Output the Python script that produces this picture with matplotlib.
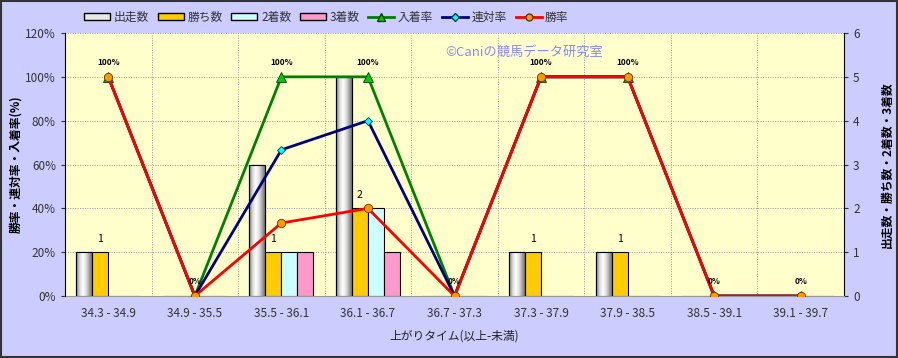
import numpy as np
import matplotlib.pyplot as plt
from matplotlib.colors import LinearSegmentedColormap
from matplotlib.patches import Patch
from matplotlib.lines import Line2D

plt.rcParams['font.family'] = ['Noto Sans CJK JP', 'DejaVu Sans']

categories = ['34.3 - 34.9', '34.9 - 35.5', '35.5 - 36.1', '36.1 - 36.7', '36.7 - 37.3',
              '37.3 - 37.9', '37.9 - 38.5', '38.5 - 39.1', '39.1 - 39.7']
starts = [1, 0, 3, 5, 0, 1, 1, 0, 0]
wins = [1, 0, 1, 2, 0, 1, 1, 0, 0]
seconds = [0, 0, 1, 2, 0, 0, 0, 0, 0]
thirds = [0, 0, 1, 1, 0, 0, 0, 0, 0]
place_rate = [100, 0, 100, 100, 0, 100, 100, 0, 0]
quinella_rate = [100, 0, 66.7, 80, 0, 100, 100, 0, 0]
win_rate = [100, 0, 33.3, 40, 0, 100, 100, 0, 0]

bg = '#CCCCFF'
fig = plt.figure(figsize=(8.98, 3.58), dpi=100, facecolor=bg)
ax2 = fig.add_axes([0.0724, 0.1732, 0.8675, 0.7346])
ax = ax2.twinx()
ax2.yaxis.tick_right()
ax2.yaxis.set_label_position('right')
ax.yaxis.tick_left()
ax.yaxis.set_label_position('left')
ax.set_zorder(ax2.get_zorder() + 1)
ax.patch.set_visible(False)
ax2.set_facecolor('#FFFFCC')

x = np.arange(len(categories))
w = 0.185

# bars (counts, right axis)
grad = LinearSegmentedColormap.from_list('cyl', ['#707070', '#d8d8d8', '#ffffff', '#e0e0e0', '#a0a0a0', '#606060'])
gimg = np.linspace(0, 1, 64).reshape(1, -1)
b1 = ax2.bar(x - 1.5 * w, starts, w, color='#e0e0e0', edgecolor='black', linewidth=0.8, zorder=3)
for r in b1:
    if r.get_height() > 0:
        im = ax2.imshow(gimg, cmap=grad, aspect='auto', zorder=3.5,
                        extent=[r.get_x(), r.get_x() + r.get_width(), 0, r.get_height()])
        im.set_clip_path(r)
        ax2.add_patch(plt.Rectangle((r.get_x(), 0), r.get_width(), r.get_height(),
                                    fill=False, edgecolor='black', linewidth=0.8, zorder=4))
ax2.bar(x - 0.5 * w, wins, w, color='#FFCC00', edgecolor='black', linewidth=0.8, zorder=3)
ax2.bar(x + 0.5 * w, seconds, w, color='#CCFFFF', edgecolor='black', linewidth=0.8, zorder=3)
ax2.bar(x + 1.5 * w, thirds, w, color='#FF99CC', edgecolor='black', linewidth=0.8, zorder=3)
for i, v in enumerate(wins):
    if v > 0:
        ax2.annotate(str(v), (x[i] - 0.5 * w, v), xytext=(0, 6), textcoords='offset points',
                     ha='center', va='bottom', fontsize=7.5)

# lines (rates, left axis)
ax.plot(x, place_rate, color='#008000', lw=2, marker='^', ms=7, mfc='#00CC00', mec='#004000', mew=0.6)
ax.plot(x, quinella_rate, color='#000080', lw=2, marker='D', ms=4.5, mfc='#00FFFF', mec='#004040', mew=0.6)
ax.plot(x, win_rate, color='#FF0000', lw=2, marker='o', ms=6, mfc='#FF9900', mec='#663300', mew=0.6)
for i, v in enumerate(place_rate):
    ax.annotate(f'{v:.0f}%', (x[i], v), xytext=(0, 7), textcoords='offset points',
                ha='center', va='bottom', fontsize=6, fontweight='bold')

ax2.set_xlim(-0.5, len(categories) - 0.5)
ax.set_ylim(0, 120)
ax2.set_ylim(0, 6)
ax.set_yticks(range(0, 121, 20))
ax.set_yticklabels([f'{t}%' for t in range(0, 121, 20)])
ax2.set_yticks(range(0, 7))
ax2.set_xticks(x)
ax2.set_xticklabels(categories)

for a in (ax, ax2):
    a.tick_params(labelsize=8.5, colors='#333333', length=3, width=0.8)
    for s in a.spines.values():
        s.set_visible(False)
ax2.tick_params(axis='x', length=0, pad=8)
ax.spines['left'].set_visible(True)
ax2.spines['right'].set_visible(True)
ax2.spines['bottom'].set_visible(True)
ax2.spines['bottom'].set_color('#999999')

ax2.yaxis.grid(True, color='#999999', linestyle=(0, (1, 1.5)), linewidth=0.7, zorder=0)
ax2.set_axisbelow(True)
for b in np.arange(0.5, len(categories) - 0.5):
    ax2.axvline(b, color='#999999', linestyle=(0, (1, 1.5)), linewidth=0.7, zorder=0.5)

ax.set_ylabel('勝率・連対率・入着率(%)', fontsize=8.5, fontweight='bold', labelpad=2)
ax2.set_ylabel('出走数・勝ち数・2着数・3着数', fontsize=8.5, fontweight='bold', labelpad=15)
ax2.set_xlabel('上がりタイム(以上-未満)', fontsize=8.5, labelpad=7, color='#222222')

fig.text(0.496, 0.843, '©Caniの競馬データ研究室', color='#8888FF', fontsize=9.5)

handles = [
    Patch(facecolor='#e8e8e8', edgecolor='black', label='出走数'),
    Patch(facecolor='#FFCC00', edgecolor='black', label='勝ち数'),
    Patch(facecolor='#CCFFFF', edgecolor='black', label='2着数'),
    Patch(facecolor='#FF99CC', edgecolor='black', label='3着数'),
    Line2D([], [], color='#008000', lw=2, marker='^', ms=6, mfc='#00CC00', mec='#004000', label='入着率'),
    Line2D([], [], color='#000080', lw=2, marker='D', ms=4, mfc='#00FFFF', mec='#004040', label='連対率'),
    Line2D([], [], color='#FF0000', lw=2, marker='o', ms=5, mfc='#FF9900', mec='#663300', label='勝率'),
]
leg = fig.legend(handles=handles, loc='center left', bbox_to_anchor=(0.082, 0.952), ncol=7, frameon=False,
                 fontsize=8.5, handlelength=2.2, handleheight=0.5, handletextpad=0.3, columnspacing=0.75)
for t in leg.get_texts():
    t.set_color('#333333')

fig.patches.append(plt.Rectangle((0.001, 0.002), 0.998, 0.996, transform=fig.transFigure,
                                 fill=False, edgecolor='#333333', linewidth=1.5))

fig.savefig('out.png', dpi=100, facecolor=bg)
